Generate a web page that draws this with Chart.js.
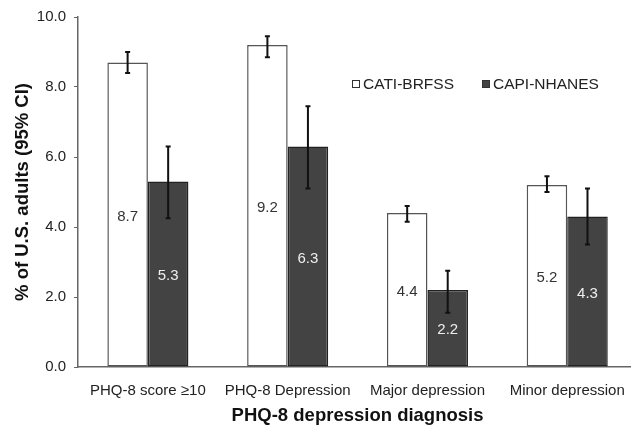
<!DOCTYPE html>
<html>
<head>
<meta charset="utf-8">
<script src="https://cdn.jsdelivr.net/npm/chart.js@4"></script>
<style>
  html, body { margin: 0; padding: 0; background: #fff; overflow: hidden; }
  #wrap { width: 640px; height: 427px; }
</style>
</head>
<body>
<div id="wrap"><canvas id="chart" width="640" height="427"></canvas></div>
<script>
const categories = ["PHQ-8 score \u226510", "PHQ-8 Depression", "Major depression", "Minor depression"];
const seriesNames = ["CATI-BRFSS", "CAPI-NHANES"];
const catiValues = [8.7, 9.2, 4.4, 5.2];
const capiValues = [5.3, 6.3, 2.2, 4.3];
const catiLow = [8.4, 8.85, 4.15, 5.0];
const catiHigh = [9.0, 9.45, 4.6, 5.45];
const capiLow = [4.25, 5.1, 1.55, 3.5];
const capiHigh = [6.3, 7.45, 2.75, 5.1];
const yTicks = [0, 2, 4, 6, 8, 10];

const fontFamily = "'Liberation Sans', Arial, sans-serif";

const errorBars = {
  id: "errorBars",
  afterDatasetsDraw(chart) {
    const ctx = chart.ctx;
    const y = chart.scales.y;
    const ranges = [[catiLow, catiHigh], [capiLow, capiHigh]];
    ctx.save();
    ctx.strokeStyle = "#111";
    ctx.lineWidth = 2;
    chart.data.datasets.forEach((ds, i) => {
      chart.getDatasetMeta(i).data.forEach((bar, j) => {
        const top = y.getPixelForValue(ranges[i][1][j]);
        const bottom = y.getPixelForValue(ranges[i][0][j]);
        ctx.beginPath();
        ctx.moveTo(bar.x, top);
        ctx.lineTo(bar.x, bottom);
        ctx.moveTo(bar.x - 2.5, top);
        ctx.lineTo(bar.x + 2.5, top);
        ctx.moveTo(bar.x - 2.5, bottom);
        ctx.lineTo(bar.x + 2.5, bottom);
        ctx.stroke();
      });
    });
    ctx.restore();
  }
};

const barLabels = {
  id: "barLabels",
  afterDatasetsDraw(chart) {
    const ctx = chart.ctx;
    ctx.save();
    ctx.font = "15px " + fontFamily;
    ctx.textAlign = "center";
    ctx.textBaseline = "middle";
    chart.data.datasets.forEach((ds, i) => {
      ctx.fillStyle = i === 0 ? "#333" : "#eee";
      chart.getDatasetMeta(i).data.forEach((bar, j) => {
        const mid = (bar.y + bar.base) / 2 + 2;
        ctx.fillText(ds.data[j].toFixed(1), bar.x, mid);
      });
    });
    ctx.restore();
  }
};

const legendBox = {
  id: "legendBox",
  afterDraw(chart) {
    const ctx = chart.ctx;
    ctx.save();
    ctx.font = "15.5px " + fontFamily;
    ctx.textBaseline = "middle";
    const items = [
      { x: 352, fill: "#fff", label: seriesNames[0] },
      { x: 482, fill: "#444", label: seriesNames[1] }
    ];
    items.forEach(it => {
      ctx.fillStyle = it.fill;
      ctx.strokeStyle = "#333";
      ctx.lineWidth = 1;
      ctx.fillRect(it.x, 80, 8, 8);
      ctx.strokeRect(it.x + 0.5, 80.5, 7, 7);
      ctx.fillStyle = "#222";
      ctx.fillText(it.label, it.x + 11, 84.5);
    });
    ctx.restore();
  }
};

new Chart(document.getElementById("chart"), {
  type: "bar",
  data: {
    labels: categories,
    datasets: [
      {
        label: seriesNames[0],
        data: catiValues,
        backgroundColor: "#ffffff",
        borderColor: "#555",
        borderWidth: 1.5,
        borderSkipped: false
      },
      {
        label: seriesNames[1],
        data: capiValues,
        backgroundColor: "#434343",
        borderColor: "#222",
        borderWidth: 1.5,
        borderSkipped: false
      }
    ]
  },
  options: {
    responsive: false,
    animation: false,
    layout: { padding: { top: 17, right: 2, bottom: 0, left: 0 } },
    categoryPercentage: 0.58,
    barPercentage: 1,
    plugins: {
      legend: { display: false },
      tooltip: { enabled: false }
    },
    scales: {
      x: {
        grid: { display: false, drawTicks: false },
        border: { color: "#666", width: 1.5 },
        ticks: {
          color: "#222",
          padding: 15,
          font: { family: fontFamily, size: 15 },
          maxRotation: 0,
          autoSkip: false
        },
        title: {
          display: true,
          text: "PHQ-8 depression diagnosis",
          color: "#111",
          font: { family: fontFamily, size: 18.5, weight: "bold" },
          padding: { top: 7, bottom: 0 }
        },
        afterFit(scale) { scale.height = 60; }
      },
      y: {
        min: 0,
        max: 10,
        afterBuildTicks(scale) {
          scale.ticks = yTicks.map(v => ({ value: v }));
        },
        grid: { display: true, drawOnChartArea: false, tickLength: 4, color: "#666" },
        border: { color: "#666", width: 1.5 },
        ticks: {
          color: "#222",
          padding: 8,
          font: { family: fontFamily, size: 15 },
          callback: v => Number(v).toFixed(1)
        },
        title: {
          display: true,
          text: "% of U.S. adults (95% CI)",
          color: "#111",
          font: { family: fontFamily, size: 18.5, weight: "bold" },
          padding: { top: 12, bottom: 0 }
        },
        afterFit(scale) { scale.width = 78; }
      }
    }
  },
  plugins: [errorBars, barLabels, legendBox]
});
</script>
</body>
</html>
